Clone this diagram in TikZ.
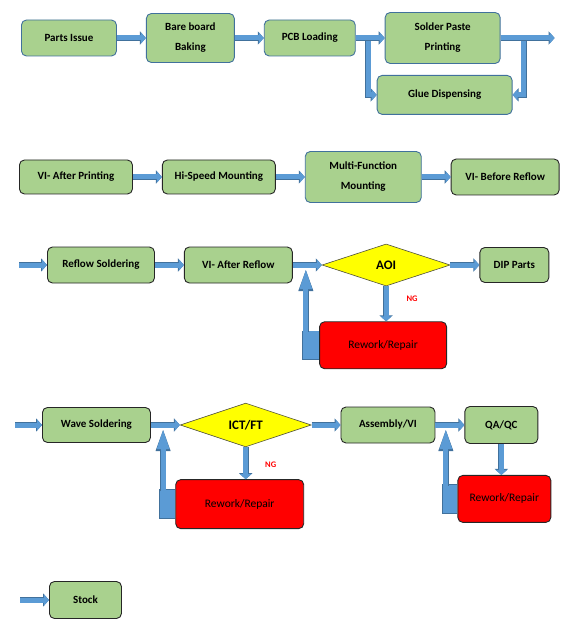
\documentclass[tikz,border=0pt]{standalone}
\usepackage{fontspec}
\setmainfont{Carlito}
\usepackage{tikz}
\usetikzlibrary{shapes.geometric,arrows.meta,positioning,calc}

\begin{document}
\begin{tikzpicture}[x=1pt, y=-1pt,
  node distance=29pt,
  pBlue/.style={rectangle, rounded corners=5pt,
    align=center, inner sep=2pt,
    fill={rgb,255:red,169;green,209;blue,142},
    draw={rgb,255:red,65;green,113;blue,156},
    line width=0.9pt, font=\fontsize{11}{20}\selectfont\bfseries},
  pDark/.style={pBlue, draw={rgb,255:red,38;green,38;blue,38}},
  pCheck/.style={diamond, inner sep=0pt,
    fill={rgb,255:red,255;green,255;blue,0},
    draw={rgb,255:red,80;green,80;blue,60},
    line width=0.6pt, font=\fontsize{13}{15}\selectfont\bfseries},
  pFix/.style={rectangle, rounded corners=5pt,
    align=center, inner sep=2pt,
    fill={rgb,255:red,255;green,0;blue,0},
    draw={rgb,255:red,38;green,38;blue,38},
    line width=0.9pt, font=\fontsize{11.5}{13}\selectfont},
  pNG/.style={inner sep=0pt, text={rgb,255:red,255;green,0;blue,0},
    font=\fontsize{8.5}{10}\selectfont\bfseries},
  parr/.style={line width=5pt,
    draw={rgb,255:red,91;green,155;blue,213},
    -{Triangle[length=5pt,width=11pt]},
    preaction={draw={rgb,255:red,65;green,113;blue,156},
      line width=6.2pt, -{Triangle[length=6pt,width=13pt]}}},
  pUp/.style={line width=5pt,
    draw={rgb,255:red,91;green,155;blue,213},
    -{Triangle[length=21pt,width=11pt]},
    preaction={draw={rgb,255:red,65;green,113;blue,156},
      line width=6.2pt, -{Triangle[length=23pt,width=13pt]}}},
  pStub/.style={line width=28pt,
    draw={rgb,255:red,91;green,155;blue,213},
    preaction={draw={rgb,255:red,65;green,113;blue,156},
      line width=29.4pt, shorten >=-0.7pt}},
]
  \useasboundingbox (0,0) rectangle (583,628);

  %% -- Row 1 --------------------------------------------------
  \node[pBlue, minimum width=95pt, minimum height=36pt, anchor=west]
    (parts) at (21,38) {Parts Issue};
  \node[pBlue, minimum width=88pt, minimum height=49pt, right=of parts]
    (bake) {Bare board\\Baking};
  \node[pBlue, minimum width=91pt, minimum height=36pt, right=of bake]
    (pcb) {PCB Loading};
  \node[pBlue, minimum width=115pt, minimum height=51pt, right=of pcb]
    (spp) {Solder Paste\\Printing};
  \node[pBlue, minimum width=135pt, minimum height=39pt,
    below=11pt of spp, xshift=2pt] (glue) {Glue Dispensing};
  \coordinate (outA) at ([xshift=54pt]spp.east);

  %% -- Row 2 --------------------------------------------------
  \node[pDark, minimum width=113pt, minimum height=34pt, anchor=west]
    (viap) at (19,177) {VI- After Printing};
  \node[pDark, minimum width=113pt, minimum height=34pt, right=of viap]
    (hsm) {Hi-Speed Mounting};
  \node[pBlue, minimum width=116pt, minimum height=51pt, right=of hsm]
    (mfm) {Multi-Function\\Mounting};
  \node[pDark, minimum width=108pt, minimum height=36pt, right=of mfm]
    (vibr) {VI- Before Reflow};

  %% -- Row 3 --------------------------------------------------
  \coordinate (inC) at (19,265);
  \node[pDark, minimum width=107pt, minimum height=36pt, anchor=west]
    (reflow) at (47,265) {Reflow Soldering};
  \node[pDark, minimum width=108pt, minimum height=36pt, right=of reflow]
    (viar) {VI- After Reflow};
  \node[pCheck, minimum width=128pt, minimum height=42pt, right=of viar]
    (aoi) {AOI};
  \node[pDark, minimum width=69pt, minimum height=35pt, right=of aoi]
    (dip) {DIP Parts};
  \node[pFix, minimum width=127pt, minimum height=47pt,
    below=35pt of aoi, xshift=-3pt] (rwA) {Rework/Repair};
  \node[pNG] (ngA) at ($(aoi.south)+(26,12)$) {NG};

  %% -- Row 4 --------------------------------------------------
  \coordinate (inD) at (15,425);
  \node[pDark, minimum width=108pt, minimum height=35pt, anchor=west]
    (wave) at (42,425) {Wave Soldering};
  \node[pCheck, minimum width=131pt, minimum height=42pt, right=of wave]
    (ict) {ICT/FT};
  \node[pDark, minimum width=94pt, minimum height=36pt, right=of ict]
    (assy) {Assembly/VI};
  \node[pDark, minimum width=73pt, minimum height=37pt, right=of assy]
    (qaqc) {QA/QC};
  \node[pFix, minimum width=128pt, minimum height=49pt,
    below=32pt of ict, xshift=-6pt] (rwB) {Rework/Repair};
  \node[pFix, minimum width=93pt, minimum height=47pt,
    below=31pt of qaqc, xshift=3pt] (rwC) {Rework/Repair};
  \node[pNG] (ngB) at ($(ict.south)+(25,18)$) {NG};

  %% -- Row 5 --------------------------------------------------
  \coordinate (inE) at (20,600);
  \node[pDark, minimum width=72pt, minimum height=37pt, anchor=west]
    (stock) at (49,600) {Stock};

  %% -- Arrows -------------------------------------------------
  \foreach \f/\t in {parts/bake, bake/pcb, pcb/spp,
      viap/hsm, hsm/mfm, mfm/vibr,
      reflow/viar, viar/aoi, aoi/dip,
      wave/ict, ict/assy, assy/qaqc}
    \draw[parr] (\f.east) -- (\t.west);
  \draw[parr] (spp.east) -- (outA);
  \foreach \f/\t in {inC/reflow, inD/wave, inE/stock}
    \draw[parr] (\f) -- (\t.west);

  % glue dispensing branch
  \coordinate (tapA) at ($(pcb.east)!0.43!(spp.west)$);
  \coordinate (tapB) at ($(spp.east)!0.43!(outA)$);
  \draw[parr] ($(tapA)+(0,3)$) |- (glue.west);
  \draw[parr] ($(tapB)+(0,3)$) |- (glue.east);

  % NG down to rework
  \draw[parr] (aoi.south) -- (aoi.south |- rwA.north);
  \draw[parr] (ict.south) -- (ict.south |- rwB.north);
  \draw[parr] (qaqc.south) -- (qaqc.south |- rwC.north);

  % rework back into the line
  \coordinate (tapC) at ($(viar.east)!0.45!(aoi.west)$);
  \coordinate (tapD) at ($(wave.east)!0.42!(ict.west)$);
  \coordinate (tapE) at ($(assy.east)!0.36!(qaqc.west)$);
  \foreach \r/\c in {rwA/tapC, rwB/tapD, rwC/tapE} {
    \draw[pStub] (\r.west) -- ($(\c |- \r.west)+(-3,0)$);
    \draw[pUp] ($(\c |- \r.west)+(0,-13)$) -- ($(\c)+(0,3)$);
  }

\end{tikzpicture}
\end{document}
